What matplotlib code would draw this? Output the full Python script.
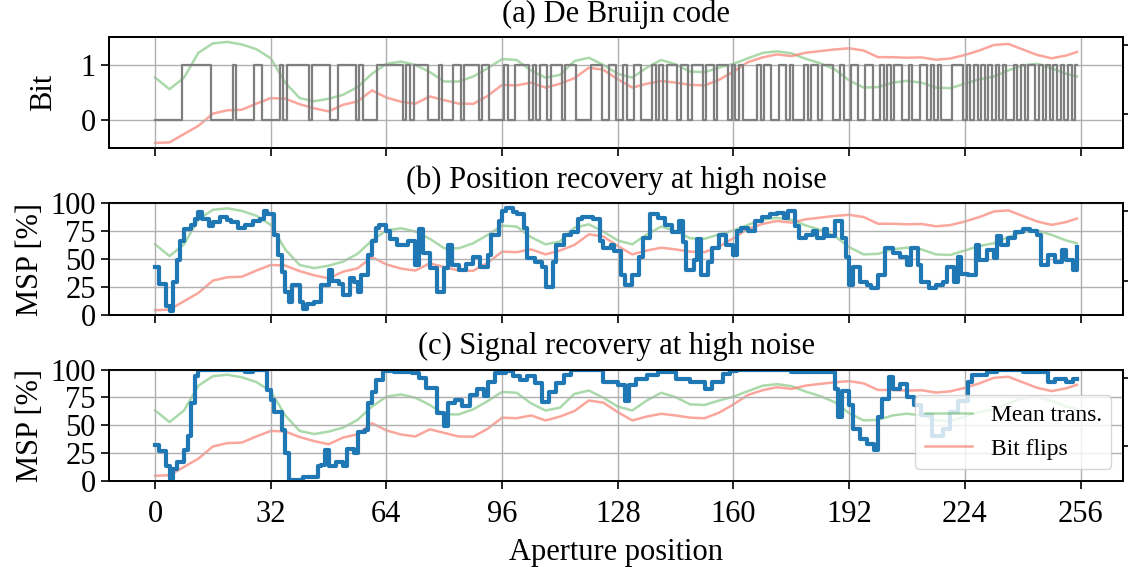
import matplotlib
matplotlib.use('Agg')
import matplotlib.pyplot as plt

plt.rcParams['font.family'] = ['Liberation Serif', 'DejaVu Serif']
plt.rcParams['font.size'] = 22
plt.rcParams['axes.linewidth'] = 1.3

# de bruijn code, one bit per aperture position (0..255)
code_bits = ("0000000011111111" "0000001000001100" "0001011111101111" "1001111101000011"
             "1111101011110001" "0001101111011000" "0100111101011011" "1011100001110011"
             "0010011000101011" "1011011101101110" "1010000101100110" "1000101101110010"
             "0110011001010110" "0100110101000111" "0101010101010010" "1011010101010101")
bits = [int(c) for c in code_bits]
positions = list(range(256))

# background curves, read every 4 positions
curve_pos = list(range(0, 256, 4)) + [255]
mean_trans = [63.6, 53, 63.5, 86, 94.5, 95.8, 93.5, 89.2, 81, 59, 45, 42.2, 44.4, 48, 55, 67,
              76, 78, 75, 68.5, 60, 60, 64.5, 72, 80.3, 79.5, 70, 63.5, 66, 78.5, 81.5, 75,
              67, 63.5, 72.5, 79.5, 75.5, 69, 68.5, 72.5, 76, 81, 85.8, 87.3, 85.5, 80.5,
              76.5, 71, 61, 54.5, 55, 59, 60.6, 59, 54.5, 54, 58, 62, 64.5, 70, 74.5, 76,
              72, 67, 64.5]
bit_flips = [4.5, 5, 12.5, 20, 31, 34, 34.5, 40, 45, 44.5, 39.5, 35.8, 33, 39, 42, 52,
             45.5, 41.8, 40, 46.5, 43.2, 40, 39.8, 47, 57, 56.5, 59, 54.5, 58, 63, 72.5, 70.6,
             62, 54.5, 58, 60.5, 59, 57, 56.5, 61.5, 69, 77.5, 81.8, 84.5, 83, 86,
             87.5, 89, 90, 88, 82, 82, 81.5, 81.8, 79.7, 80.8, 84, 88, 93, 94, 89, 84,
             81, 83.5, 86.7]

# (b) position recovery, MSP in % (value holds from x onwards)
pos_rec_x = [0, 1, 3, 4, 5, 6, 7, 8, 10, 11, 12, 13, 15, 16, 18, 20, 21, 23, 25, 27, 29, 30, 31,
             33, 34, 35, 36, 37, 38, 40, 41, 42, 44, 46, 48, 49, 51, 52, 54, 55, 56, 57, 59,
             60, 61, 62, 64, 65, 67, 70, 72, 73, 74, 76, 78, 80, 81, 82, 84, 86, 88, 90, 92,
             93, 95, 96, 97, 99, 100, 102, 103, 105, 107, 108, 110, 111, 113, 115, 117, 118,
             121, 123, 124, 126, 127, 129, 130, 132, 134, 135, 137, 139, 141, 143, 145, 146,
             147, 149, 150, 151, 153, 154, 156, 158, 160, 161, 162, 164, 166, 168, 170, 172,
             174, 175, 177, 178, 180, 182, 183, 185, 186, 188, 190, 191, 192, 193, 195, 197,
             198, 200, 202, 204, 206, 208, 209, 211, 212, 214, 216, 218, 219, 221, 222, 223,
             225, 227, 228, 230, 232, 233, 234, 236, 238, 240, 242, 244, 245, 247, 249, 251,
             252, 254, 255]
pos_rec_y = [43, 28, 8, 4, 30, 49, 66, 77, 81, 86, 92, 86, 80, 83, 88, 85, 83, 78, 81, 84, 86, 93, 90,
             72, 54, 39, 21, 12, 27, 12, 6, 10, 12, 27, 40, 31, 28, 18, 33, 30, 21, 36, 54,
             66, 78, 81, 75, 68, 63, 66, 45, 77, 56, 42, 21, 42, 63, 45, 40, 46, 52, 43, 54,
             72, 84, 93, 96, 92, 90, 78, 51, 48, 43, 25, 48, 63, 72, 74, 86, 88,
             86, 66, 60, 63, 57, 36, 27, 36, 52, 69, 90, 87, 81, 74, 84, 65,
             40, 49, 68, 36, 48, 60, 72, 63, 54, 75, 78, 75, 84, 88, 90, 91,
             87, 93, 80, 69, 72, 75, 69, 77, 71, 84, 69, 52, 27, 43, 30, 27,
             24, 36, 60, 56, 52, 45, 60, 45, 30, 24, 27, 30, 43, 30, 52, 37,
             36, 63, 49, 58, 51, 71, 63, 69, 74, 77, 75, 72, 45, 54, 48, 58,
             49, 40, 61]

# (c) signal recovery, MSP in %
sig_rec_x = [0, 1, 3, 4, 5, 6, 8, 9, 10, 11, 12, 25, 27, 31, 32, 33, 35, 36, 37, 41, 45, 46, 47,
             48, 50, 52, 53, 55, 56, 58, 59, 60, 61, 63, 66, 71, 73, 75, 78, 80, 81, 83, 85,
             87, 89, 91, 92, 94, 97, 99, 101, 103, 105, 107, 109, 111, 113, 115, 124, 128,
             130, 131, 133, 136, 139, 144, 148, 152, 154, 157, 159, 161, 176, 188, 189, 190,
             192, 193, 195, 197, 199, 200, 201, 203, 204, 206, 208, 210, 212, 215, 218, 220,
             222, 225, 226, 230, 233, 240, 247, 249, 252, 254, 255]
sig_rec_y = [32, 27, 13, 2, 11, 17, 28, 40, 70, 94, 99.5, 98, 99.5, 82, 73, 62, 46, 25, 1, 3, 13, 14, 28,
             13, 17, 13, 29, 25, 44, 46, 70, 80, 91, 98.5, 97.6, 97, 92.5, 83.5, 61, 49, 70, 73, 67,
             77, 83, 76, 89, 97, 98.5, 94, 91, 94, 88, 71, 80, 88, 95, 99.5, 89, 86,
             72, 86, 92, 95, 98, 92, 89, 83, 89, 96, 99, 100, 98, 83, 57, 81,
             68, 47, 38, 33, 28, 57, 74, 93, 83, 87, 75, 68, 59, 40, 47, 62,
             72, 89, 95, 98, 100, 98, 89, 92, 89, 92, 92]

xticks = list(range(0, 257, 32))

fig = plt.figure(figsize=(11.28, 5.67), dpi=100)
left, width = 0.0966, 0.899
ax_a = fig.add_axes([left, 0.739, width, 0.196])
ax_b = fig.add_axes([left, 0.444, width, 0.1975], sharex=ax_a)
ax_c = fig.add_axes([left, 0.152, width, 0.196], sharex=ax_a)

green = '#2ca02c'
red = 'salmon'
blue = '#1f77b4'

twins = []
for ax in (ax_a, ax_b, ax_c):
    tw = ax.twinx()
    l1, = tw.plot(curve_pos, mean_trans, color=green, alpha=0.4, lw=1.8, label='Mean trans.')
    l2, = tw.plot(curve_pos, bit_flips, color=red, alpha=0.7, lw=1.8, label='Bit flips')
    tw.set_yticks([31, 93])
    tw.set_yticklabels([])
    tw.tick_params(direction='out', length=6, width=1.2)
    # main axes drawn above the twin
    ax.set_zorder(tw.get_zorder() + 1)
    ax.patch.set_visible(False)
    twins.append((tw, l1, l2))

ax_a.step(positions, bits, where='mid', color='#7f7f7f', lw=1.6)
ax_a.set_ylim(-0.5, 1.5)
ax_a.set_yticks([0, 1])
ax_a.set_ylabel('Bit', labelpad=16)
ax_a.set_title('(a) De Bruijn code', fontsize=22, pad=11)

ax_b.step(pos_rec_x + [255], pos_rec_y + [pos_rec_y[-1]], where='post', color=blue, lw=3)
ax_b.set_ylabel('MSP [%]', labelpad=4)
ax_b.set_title('(b) Position recovery at high noise', fontsize=22, pad=11)

ax_c.step(sig_rec_x + [255], sig_rec_y + [sig_rec_y[-1]], where='post', color=blue, lw=3)
ax_c.set_ylabel('MSP [%]', labelpad=4)
ax_c.set_title('(c) Signal recovery at high noise', fontsize=22, pad=11)
ax_c.set_xlabel('Aperture position', labelpad=6)

for ax in (ax_b, ax_c):
    ax.set_ylim(0, 100)
    ax.set_yticks([0, 25, 50, 75, 100])

for ax in (ax_a, ax_b, ax_c):
    ax.set_xticks(xticks)
    ax.grid(True, color='#b0b0b0', lw=1)
    ax.tick_params(direction='out', length=6, width=1.2)
ax_c.tick_params(axis='x', pad=8)
ax_a.tick_params(labelbottom=False)
ax_b.tick_params(labelbottom=False)

tw, l1, l2 = twins[2]
leg = ax_c.legend([l1, l2], ['Mean trans.', 'Bit flips'], loc='lower right', framealpha=0.8,
                  fontsize=17)

fig.savefig('out.png', dpi=100)
